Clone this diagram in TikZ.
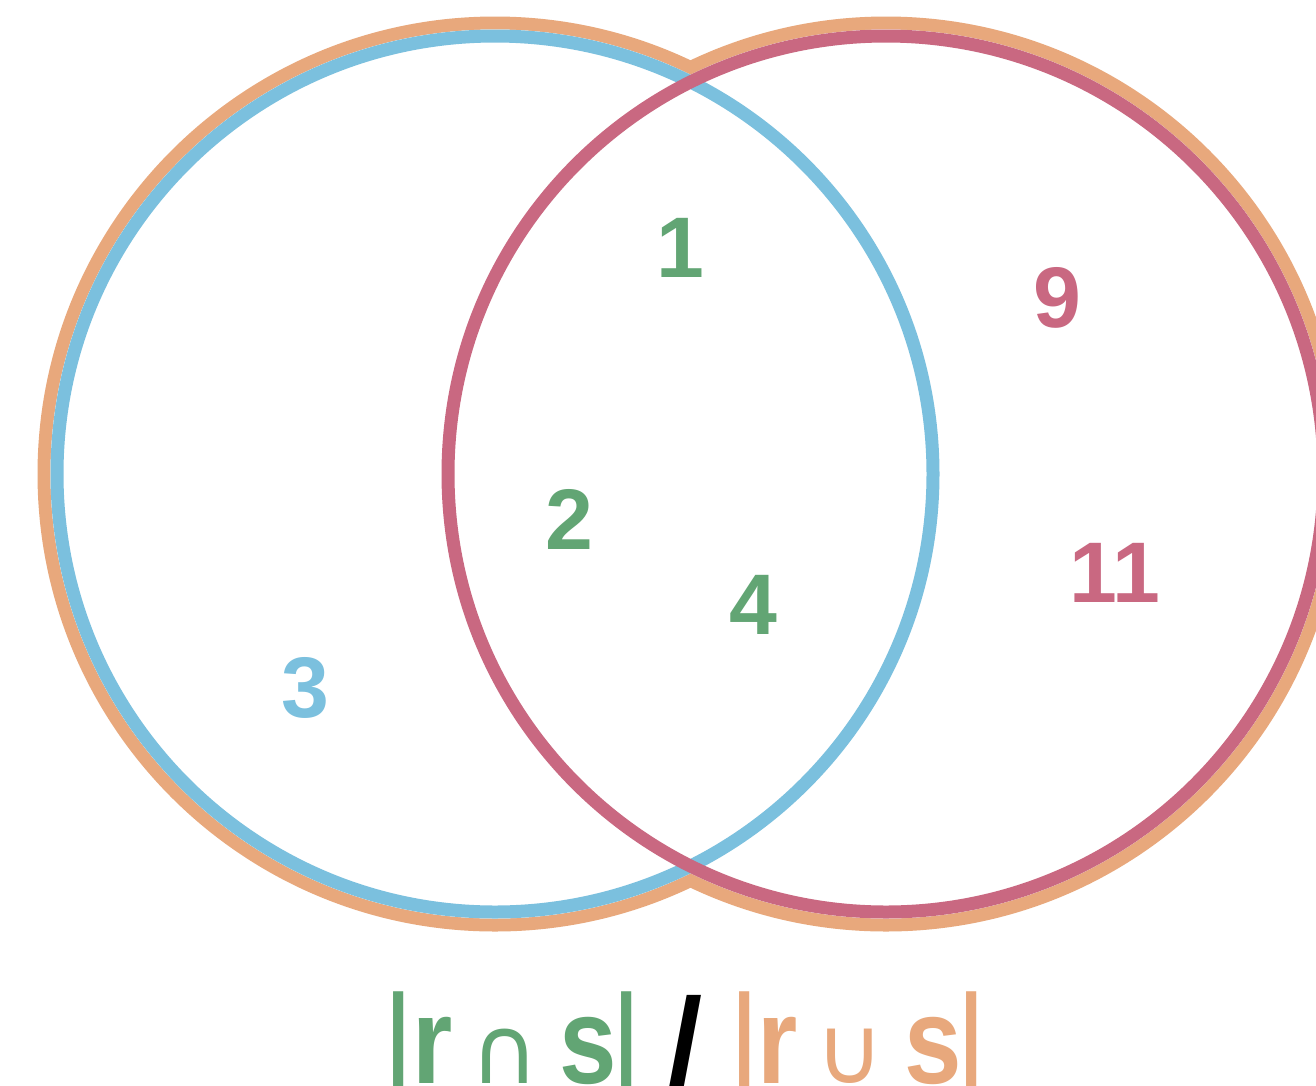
\documentclass[tikz,border=0pt]{standalone}
\usepackage{fontspec}
\setmainfont{Liberation Sans}
\newfontfamily\symfont{DejaVu Sans}
\definecolor{orangeC}{HTML}{E8A87C}
\definecolor{blueC}{HTML}{7BC0DE}
\definecolor{redC}{HTML}{C96881}
\definecolor{greenC}{HTML}{62A574}
\begin{document}
\begin{tikzpicture}[x=1pt,y=-1pt,
  ring/.style={line width=13pt},
  num/.style={font=\bfseries\fontsize{86}{86}\selectfont, inner sep=0pt, anchor=base},
  big/.style={font=\bfseries\fontsize{123}{123}\selectfont, inner sep=0pt, anchor=base},
  bar/.style={font=\bfseries\fontsize{128}{128}\selectfont, inner sep=0pt, anchor=base},
  sym/.style={font=\symfont\fontsize{94}{94}\selectfont, inner sep=0pt, anchor=base}]
\useasboundingbox (0,0) rectangle (1316,1085);
\fill[white] (0,0) rectangle (1316,1085);
\coordinate (L) at (495,474);
\coordinate (R) at (886,474);
% union outline
\draw[orangeC, ring] (L) circle[radius=451pt];
\draw[orangeC, ring] (R) circle[radius=451pt];
\fill[white] (L) circle[radius=444.5pt];
\fill[white] (R) circle[radius=444.5pt];
% sets
\draw[blueC, ring] (L) circle[radius=438pt];
\draw[redC, ring] (R) circle[radius=438pt];
% elements
\node[num, text=greenC] (n1) at (680,277) {1};
\node[num, text=greenC] (n2) at (569.5,549) {2};
\node[num, text=greenC] (n4) at (753.5,634) {4};
\node[num, text=redC] (n9) at (1057.5,327) {9};
\node[num, text=redC] (n11) at (1114.5,602) {11};
\node[num, text=blueC] (n3) at (305,717) {3};
% formula
\node[bar, text=greenC] (b1) at (398.5,1084) {\scalebox{0.62}[1]{|}};
\node[big, text=greenC] (r1) at (432.5,1083) {\scalebox{0.84}[1]{r}};
\node[sym, text=greenC] (cap) at (505,1083) {∩};
\node[big, text=greenC] (s1) at (588.5,1083) {\scalebox{0.84}[1]{s}};
\node[bar, text=greenC] (b2) at (626.5,1084) {\scalebox{0.62}[1]{|}};
\node[big, text=black] (sl) at (685.5,1084) {/};
\node[bar, text=orangeC] (b3) at (744.5,1084) {\scalebox{0.62}[1]{|}};
\node[big, text=orangeC] (r2) at (777.5,1083) {\scalebox{0.84}[1]{r}};
\node[sym, text=orangeC] (cup) at (850,1083) {∪};
\node[big, text=orangeC] (s2) at (933.5,1083) {\scalebox{0.84}[1]{s}};
\node[bar, text=orangeC] (b4) at (971.5,1084) {\scalebox{0.62}[1]{|}};
\end{tikzpicture}
\end{document}
